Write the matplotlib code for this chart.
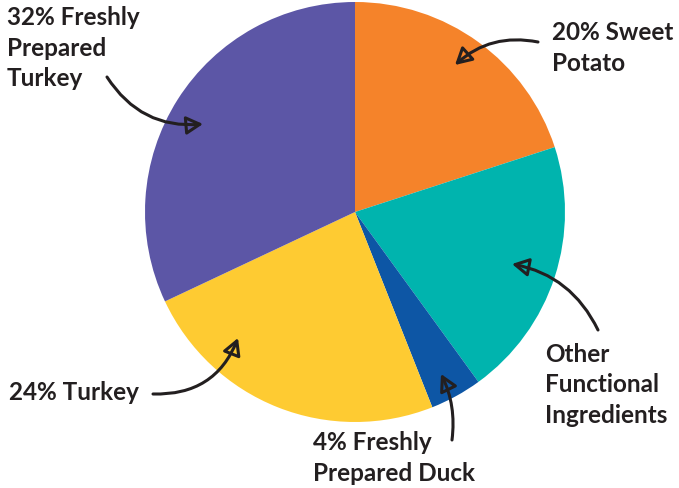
import matplotlib
matplotlib.use("Agg")
import matplotlib.pyplot as plt

W, H = 679, 488

labels = ["20% Sweet\nPotato", "Other\nFunctional\nIngredients",
          "4% Freshly\nPrepared Duck", "24% Turkey",
          "32% Freshly\nPrepared\nTurkey"]
shares = [20, 20, 4, 24, 32]
colors = ["#F5832A", "#00B4AE", "#0D56A5", "#FECB32", "#5C56A6"]

# label block position (left, vertical centre) and arrow tail/head, in pixels
textPos = [(552, 48), (545, 385), (313, 458), (9, 392), (7, 48)]
arrowTail = [(538, 42), (598, 330), (452, 440), (153, 394), (107, 77)]
arrowHead = [(455, 65), (512, 264), (441, 374), (238, 338), (203, 124)]
arrowRad = [0.25, 0.25, 0.15, 0.35, 0.3]

fig = plt.figure(figsize=(W / 100, H / 100), dpi=100)
ax = fig.add_axes([0, 0, 1, 1])

ax.pie(shares, colors=colors, startangle=90, counterclock=False,
       center=(355, H - 212), radius=210, frame=True,
       wedgeprops=dict(linewidth=0))

ax.set_xlim(0, W)
ax.set_ylim(0, H)
ax.set_aspect("equal")
ax.axis("off")

textColor = "#231F20"
for lab, (tx, ty), tail, head, rad in zip(labels, textPos, arrowTail, arrowHead, arrowRad):
    ax.text(tx, H - ty, lab, ha="left", va="center", fontsize=17.5,
            family="Lato", weight="bold", color=textColor, linespacing=1.38)
    ax.annotate("", xy=(head[0], H - head[1]), xytext=(tail[0], H - tail[1]),
                arrowprops=dict(arrowstyle="-|>,head_length=1.0,head_width=0.55",
                                connectionstyle="arc3,rad=%s" % rad,
                                color=textColor, fc="none", lw=2.2,
                                shrinkA=0, shrinkB=0))

fig.savefig("out.png", dpi=100)
